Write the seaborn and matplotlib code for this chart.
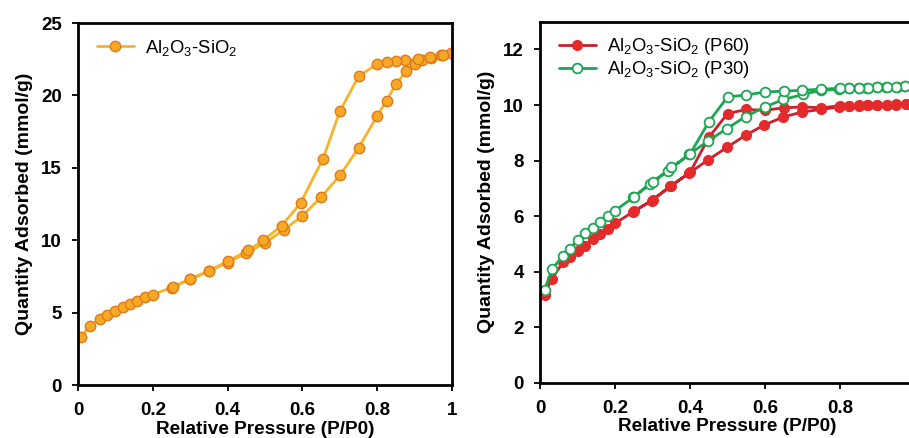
import matplotlib
matplotlib.use("Agg")
import matplotlib.pyplot as plt
import seaborn as sns
import numpy as np

# ---- Left panel: Al2O3-SiO2 (adsorption then desorption) ----
ads_p = [0.009, 0.031, 0.058, 0.078, 0.10, 0.12, 0.14, 0.158, 0.18, 0.20, 0.25, 0.30,
         0.35, 0.40, 0.45, 0.50, 0.55, 0.60, 0.65, 0.70, 0.75, 0.80, 0.825, 0.85,
         0.877, 0.90, 0.92, 0.945, 0.97, 0.996]
ads_v = [3.30, 4.10, 4.56, 4.84, 5.14, 5.37, 5.58, 5.78, 6.06, 6.24, 6.73, 7.30,
         7.86, 8.45, 9.10, 9.82, 10.71, 11.68, 12.97, 14.47, 16.36, 18.59, 19.63, 20.78,
         21.66, 22.19, 22.45, 22.58, 22.76, 22.93]
des_p = [0.975, 0.94, 0.91, 0.875, 0.85, 0.825, 0.80, 0.75, 0.70, 0.655, 0.595,
         0.545, 0.495, 0.455, 0.40, 0.35, 0.30, 0.255]
des_v = [22.78, 22.63, 22.51, 22.42, 22.35, 22.28, 22.17, 21.31, 18.89, 15.62, 12.56,
         11.01, 9.98, 9.29, 8.55, 7.88, 7.32, 6.78]

# ---- Right panel: P60 and P30 ----
p60_ads_p = [0.012, 0.031, 0.062, 0.08, 0.10, 0.12, 0.14, 0.16, 0.182, 0.20, 0.247, 0.298,
             0.347, 0.398, 0.447, 0.498, 0.548, 0.598, 0.649, 0.70, 0.749, 0.798, 0.825,
             0.85, 0.873, 0.90, 0.925, 0.95, 0.975, 0.995]
p60_ads_v = [3.17, 3.74, 4.34, 4.52, 4.76, 4.94, 5.18, 5.36, 5.54, 5.74, 6.14, 6.56,
             7.07, 7.55, 8.01, 8.47, 8.91, 9.28, 9.57, 9.75, 9.84, 9.93, 9.95,
             9.95, 9.99, 10.00, 10.01, 10.01, 10.03, 10.05]
p60_des_p = [0.975, 0.95, 0.925, 0.90, 0.875, 0.85, 0.825, 0.80, 0.75, 0.70, 0.65,
             0.60, 0.55, 0.50, 0.45, 0.40, 0.35, 0.30, 0.25]
p60_des_v = [10.03, 10.02, 10.01, 10.00, 10.00, 9.99, 9.98, 9.97, 9.90, 9.93, 9.90,
             9.81, 9.84, 9.69, 8.83, 7.57, 7.09, 6.58, 6.17]

p30_ads_p = [0.012, 0.033, 0.06, 0.08, 0.10, 0.12, 0.14, 0.16, 0.18, 0.20, 0.249, 0.292,
             0.342, 0.398, 0.449, 0.498, 0.548, 0.60, 0.649, 0.702, 0.749, 0.798, 0.825,
             0.85, 0.873, 0.898, 0.924, 0.951, 0.973, 0.995]
p30_ads_v = [3.35, 4.10, 4.55, 4.82, 5.14, 5.38, 5.56, 5.78, 6.02, 6.20, 6.67, 7.15,
             7.63, 8.23, 8.71, 9.15, 9.58, 9.93, 10.20, 10.38, 10.53, 10.56, 10.60,
             10.60, 10.62, 10.64, 10.64, 10.64, 10.68, 10.70]
p30_des_p = [0.973, 0.95, 0.925, 0.90, 0.875, 0.85, 0.825, 0.80, 0.75, 0.70, 0.65,
             0.60, 0.55, 0.50, 0.45, 0.40, 0.35, 0.30, 0.25]
p30_des_v = [10.68, 10.66, 10.65, 10.64, 10.63, 10.62, 10.61, 10.60, 10.57, 10.53, 10.50,
             10.47, 10.36, 10.29, 9.39, 8.23, 7.75, 7.21, 6.70]

xticks = [0, 0.2, 0.4, 0.6, 0.8, 1.0]
xticklabels = ["0", "0.2", "0.4", "0.6", "0.8", "1"]
left_yticks = [0, 5, 10, 15, 20, 25]
right_yticks = [0, 2, 4, 6, 8, 10, 12]

sns.set_style("white")
plt.rcParams['font.family'] = ['Liberation Sans', 'DejaVu Sans']
plt.rcParams['mathtext.fontset'] = 'custom'
plt.rcParams['mathtext.rm'] = 'Liberation Sans'
plt.rcParams['mathtext.it'] = 'Liberation Sans:italic'
plt.rcParams['mathtext.bf'] = 'Liberation Sans:bold'
plt.rcParams['text.color'] = 'black'
plt.rcParams['axes.labelcolor'] = 'black'
plt.rcParams['xtick.color'] = 'black'
plt.rcParams['ytick.color'] = 'black'

fig = plt.figure(figsize=(9.09, 4.38), dpi=100)
ax1 = fig.add_axes([78/909, (438-385)/438, (452-78)/909, (385-23)/438])
ax2 = fig.add_axes([540/909, (438-382.7)/438, (915-540)/909, (382.7-21.7)/438])

orange_line = "#F6B42A"
orange_face = "#F7A824"
orange_edge = "#DE7A1C"
red_line = "#C8202C"
red_face = "#E52A2C"
green = "#1DA653"

sns.lineplot(x=ads_p + des_p, y=ads_v + des_v, sort=False, estimator=None, ax=ax1,
             color=orange_line, linewidth=2.0, marker='o', markersize=7.5,
             markerfacecolor=orange_face, markeredgecolor=orange_edge,
             markeredgewidth=1.0, label=r"Al$_2$O$_3$-SiO$_2$")

sns.lineplot(x=p60_ads_p + p60_des_p, y=p60_ads_v + p60_des_v, sort=False, estimator=None,
             ax=ax2, color=red_line, linewidth=2.0, marker='o', markersize=7,
             markerfacecolor=red_face, markeredgecolor=red_face, markeredgewidth=1.0,
             label=r"Al$_2$O$_3$-SiO$_2$ (P60)")
sns.lineplot(x=p30_ads_p + p30_des_p, y=p30_ads_v + p30_des_v, sort=False, estimator=None,
             ax=ax2, color=green, linewidth=2.0, marker='o', markersize=7,
             markerfacecolor='white', markeredgecolor=green, markeredgewidth=1.3,
             label=r"Al$_2$O$_3$-SiO$_2$ (P30)")

for ax in (ax1, ax2):
    for s in ax.spines.values():
        s.set_linewidth(2.0)
        s.set_color('black')
        s.set_visible(True)
    ax.tick_params(axis='both', which='major', direction='out', length=4.5, width=1.3,
                   labelsize=13.5, left=True, bottom=True, right=False, top=False,
                   colors='black')
    ax.tick_params(axis='x', pad=8)
    ax.tick_params(axis='y', pad=7)
    ax.set_xticks(xticks)
    ax.set_xticklabels(xticklabels)
    ax.set_xlim(0, 1)
    ax.set_xlabel("Relative Pressure (P/P0)", fontsize=13.7, fontweight='bold',
                  labelpad=1, color='black')
    ax.set_ylabel("Quantity Adsorbed (mmol/g)", fontsize=14, fontweight='bold',
                  labelpad=6, color='black')

ax1.set_ylim(0, 25)
ax1.set_yticks(left_yticks)
ax2.set_ylim(0, 13)
ax2.set_yticks(right_yticks)

for ax in (ax1, ax2):
    for t in ax.get_xticklabels() + ax.get_yticklabels():
        t.set_fontweight('bold')

ax1.legend(loc='upper left', frameon=False, fontsize=13.3, handlelength=2.0,
           handletextpad=0.6, bbox_to_anchor=(0.02, 0.99), borderaxespad=0.2)
ax2.legend(loc='upper left', frameon=False, fontsize=13.3, handlelength=2.0,
           handletextpad=0.6, labelspacing=0.1, bbox_to_anchor=(0.02, 0.99),
           borderaxespad=0.2)

fig.savefig("out.png", dpi=100)
